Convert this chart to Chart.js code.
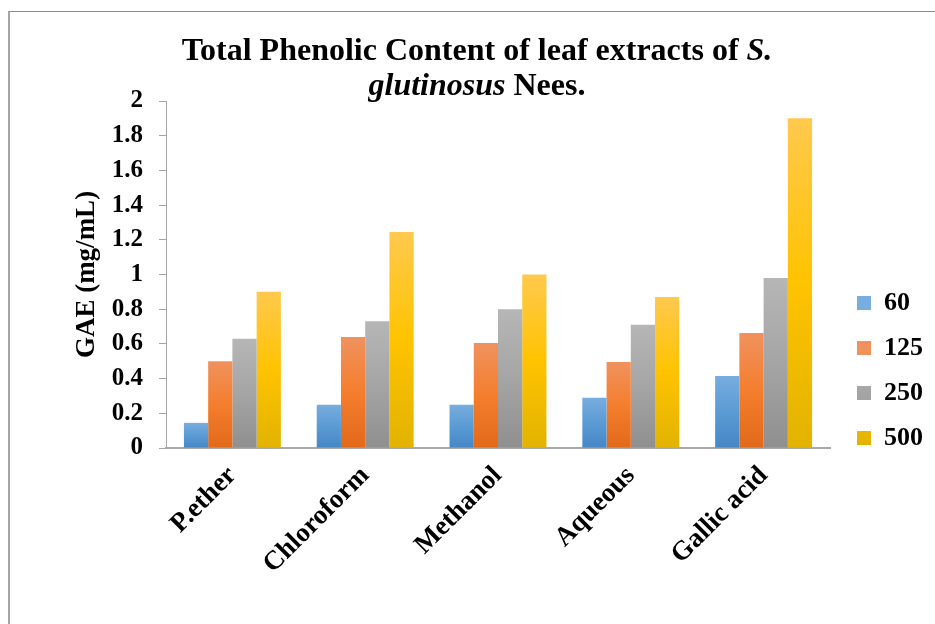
<!DOCTYPE html>
<html>
<head>
<meta charset="utf-8">
<script src="https://cdn.jsdelivr.net/npm/chart.js@4/dist/chart.umd.min.js"></script>
<style>
  html, body { margin: 0; padding: 0; background: #fff; overflow: hidden; }
  #wrap { position: relative; width: 935px; height: 624px; }
  #frame {
    position: absolute; left: 8px; top: 11px; width: 1000px; height: 700px;
    border-left: 2px solid #a6a6a6; border-top: 1px solid #8c8c8c;
  }
  #title {
    position: absolute; left: 0; top: 32px; width: 954px; text-align: center;
    font-family: "Liberation Serif", "Times New Roman", serif; font-weight: bold;
    font-size: 32px; line-height: 35px; color: #000;
  }
  #chart { position: absolute; left: 0; top: 0; }
</style>
</head>
<body>
<div id="wrap">
  <div id="frame"></div>
  <canvas id="chart" width="935" height="624"></canvas>
  <div id="title">Total Phenolic Content of leaf extracts of <i>S.</i><br><i>glutinosus</i> Nees.</div>
</div>
<script>
// Extract solvents (categories) and concentrations (series, µg/mL)
const categories = ['P.ether', 'Chloroform', 'Methanol', 'Aqueous', 'Gallic acid'];
const seriesNames = ['60', '125', '250', '500'];
const values60  = [0.145, 0.25, 0.25, 0.29, 0.415];
const values125 = [0.50, 0.64, 0.605, 0.495, 0.663];
const values250 = [0.63, 0.73, 0.80, 0.71, 0.98];
const values500 = [0.90, 1.245, 1.00, 0.87, 1.90];
const yTickValues = [0, 0.2, 0.4, 0.6, 0.8, 1, 1.2, 1.4, 1.6, 1.8, 2];

// light top -> base -> darker bottom, per bar
const fills = [
  ['#78addf', '#5b9bd5', '#4586c6'],
  ['#f0925e', '#f47e2e', '#e2691a'],
  ['#b6b6b6', '#a5a5a5', '#8f8f8f'],
  ['#ffc94e', '#ffc300', '#e2b300']
];

function barFill(stops) {
  return (ctx) => {
    const chart = ctx.chart;
    if (!chart.chartArea || ctx.type !== 'data') return stops[1];
    const y = chart.scales.y;
    const top = y.getPixelForValue(ctx.raw);
    const base = y.getPixelForValue(0);
    if (!isFinite(top) || !isFinite(base) || top === base) return stops[1];
    const g = chart.ctx.createLinearGradient(0, top, 0, base);
    g.addColorStop(0, stops[0]);
    g.addColorStop(0.5, stops[1]);
    g.addColorStop(1, stops[2]);
    return g;
  };
}

const seriesValues = [values60, values125, values250, values500];
const datasets = seriesNames.map((name, i) => ({
  label: name,
  data: seriesValues[i],
  backgroundColor: barFill(fills[i]),
  borderWidth: 0,
  categoryPercentage: 0.73,
  barPercentage: 1.0
}));

const serif = '"Liberation Serif", "Times New Roman", serif';

// Legend sits to the right, its block ending level with the x axis
const legendPlacer = {
  id: 'legendPlacer',
  afterLayout(chart) {
    const lg = chart.legend;
    if (!lg) return;
    const dx = 838 - lg.left;
    lg.left += dx; lg.right += dx;
    const h = lg.bottom - lg.top;
    lg.bottom = 470; lg.top = lg.bottom - h;
  }
};

new Chart(document.getElementById('chart'), {
  type: 'bar',
  data: { labels: categories, datasets },
  plugins: [legendPlacer],
  options: {
    responsive: false,
    animation: false,
    layout: { padding: { left: 67, top: 101, right: 10, bottom: 4 } },
    plugins: {
      title: { display: false },
      tooltip: { enabled: false },
      legend: {
        position: 'right',
        align: 'end',
        labels: {
          font: { family: serif, size: 26, weight: 'bold' },
          color: '#000',
          boxWidth: 14,
          boxHeight: 14,
          padding: 19
        }
      }
    },
    scales: {
      x: {
        grid: { display: false, drawTicks: false },
        border: { display: true, color: '#a9a9a9', width: 2 },
        ticks: {
          font: { family: serif, size: 27, weight: 'bold' },
          color: '#000',
          minRotation: 45,
          maxRotation: 45,
          padding: 12,
          autoSkip: false
        },
        afterFit(scale) { scale.height = 172; }
      },
      y: {
        min: 0,
        max: 2,
        afterBuildTicks(scale) { scale.ticks = yTickValues.map(v => ({ value: v })); },
        grid: {
          drawOnChartArea: false,
          drawTicks: true,
          tickLength: 7,
          color: '#a6a6a6'
        },
        border: { display: true, color: '#a6a6a6', width: 1 },
        ticks: {
          font: { family: serif, size: 25, weight: 'bold' },
          color: '#000',
          padding: 16,
          callback: (v) => String(Number(Number(v).toFixed(1)))
        },
        title: {
          display: true,
          text: 'GAE (mg/mL)',
          font: { family: serif, size: 27, weight: 'bold' },
          color: '#000',
          padding: { top: 4, bottom: 4 }
        },
        afterFit(scale) { scale.width = 99; }
      }
    }
  }
});
</script>
</body>
</html>
